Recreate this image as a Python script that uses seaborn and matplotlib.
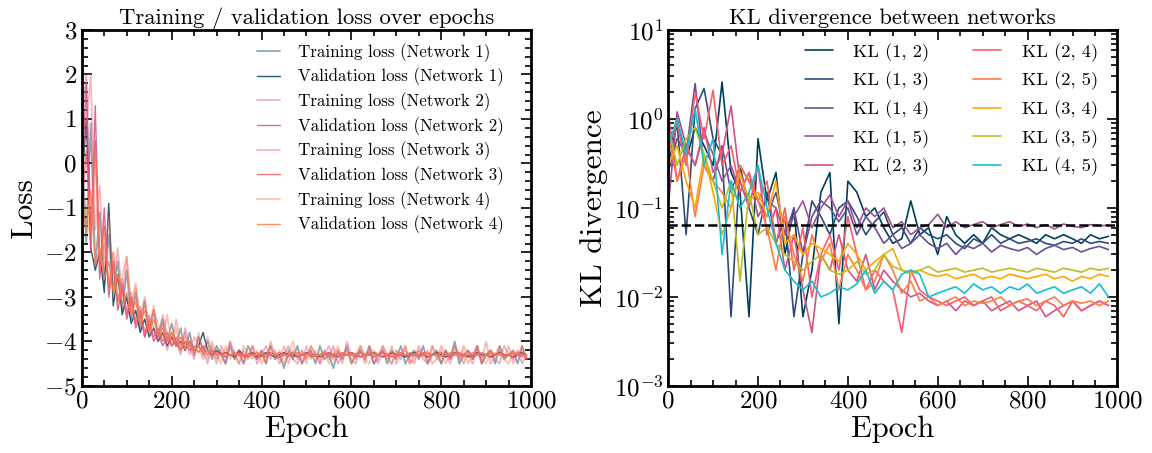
import numpy as np
import pandas as pd
import matplotlib
matplotlib.use("Agg")
import matplotlib.pyplot as plt
from matplotlib.ticker import MultipleLocator
import seaborn as sns

# ---- loss curves, one value every 10 epochs ----
train_1 = [0.4, -1.8, 0.9, -2.3, -1.1, -2.7, -1.6, -2.9, -2.2, -3.3,
           -2.4, -3.5, -2.9, -3.7, -3.1, -3.8, -3.3, -3.9, -3.5, -4.0,
           -3.6, -4.1, -3.7, -4.2, -3.8, -4.3, -3.9, -4.2, -4.0, -4.4,
           -4.1, -4.3, -4.5, -4.1, -4.4, -4.2, -4.5, -4.1, -4.3, -4.4,
           -4.2, -4.5, -4.1, -4.4, -4.3, -4.6, -4.2, -4.4, -4.1, -4.5,
           -4.3, -4.2, -4.5, -4.1, -4.4, -4.3, -4.6, -4.2, -4.4, -4.1,
           -4.5, -4.3, -4.2, -4.4, -4.1, -4.5, -4.3, -4.2, -4.5, -4.2,
           -4.4, -4.1, -4.5, -4.3, -4.2, -4.4, -4.1, -4.5, -4.3, -4.2,
           -4.5, -4.2, -4.4, -4.0, -4.5, -4.3, -4.2, -4.4, -4.1, -4.5,
           -4.3, -4.2, -4.5, -4.1, -4.4, -4.3, -4.2, -4.5, -4.1, -4.4]
val_1 = [-0.5, 1.0, -1.9, -2.4, -2.0, -2.9, -0.9, -3.2, -2.5, -3.4,
         -3.0, -3.6, -3.3, -3.8, -3.5, -3.9, -3.7, -4.0, -3.8, -4.1,
         -3.9, -4.1, -4.0, -4.2, -4.0, -4.2, -4.1, -3.8, -4.2, -4.3,
         -4.2, -4.3, -4.25, -4.3, -4.35, -4.2, -4.3, -4.3, -4.25, -4.35,
         -4.3, -4.25, -4.3, -4.35, -4.3, -4.25, -4.3, -4.3, -4.35, -4.3,
         -4.25, -4.3, -4.3, -4.35, -4.3, -4.25, -4.3, -4.35, -4.3, -4.3,
         -4.25, -4.3, -4.35, -4.3, -4.3, -4.25, -4.3, -4.35, -4.3, -4.25,
         -4.3, -4.3, -4.35, -4.3, -4.25, -4.3, -4.3, -4.35, -4.3, -4.25,
         -4.3, -4.35, -4.3, -4.25, -4.3, -4.3, -4.35, -4.3, -4.25, -4.3,
         -4.3, -4.35, -4.3, -4.25, -4.3, -4.3, -4.35, -4.3, -4.25, -4.3]
train_2 = [1.0, 2.0, -1.5, 0.5, -2.5, -1.8, -2.8, -2.0, -3.1, -2.6,
           -3.4, -2.9, -3.6, -3.2, -3.9, -3.4, -3.7, -4.0, -3.6, -4.2,
           -3.8, -4.0, -4.3, -3.7, -4.1, -4.4, -3.9, -4.2, -4.5, -4.1,
           -4.4, -4.2, -4.5, -4.0, -4.3, -4.5, -4.2, -4.4, -4.1, -4.5,
           -4.3, -4.1, -4.4, -4.2, -4.5, -4.3, -4.1, -4.4, -4.5, -4.2,
           -4.4, -4.1, -4.3, -4.5, -4.2, -4.4, -4.1, -4.5, -4.3, -4.2,
           -4.4, -4.5, -4.1, -4.3, -4.2, -4.5, -4.4, -4.1, -4.3, -4.5,
           -4.2, -4.4, -4.1, -4.5, -4.3, -4.2, -4.4, -4.5, -4.1, -4.3,
           -4.5, -4.2, -4.4, -4.1, -4.3, -4.5, -4.2, -4.4, -4.1, -4.5,
           -4.3, -4.2, -4.4, -4.5, -4.1, -4.3, -4.4, -4.2, -4.5, -4.3]
val_2 = [-0.3, 1.8, -2.0, 1.3, -2.6, -1.0, -3.0, -2.2, -3.3, -2.8,
         -3.5, -3.1, -3.7, -3.4, -3.9, -3.6, -4.0, -3.8, -4.1, -3.9,
         -4.1, -4.0, -4.2, -4.0, -4.2, -4.1, -4.25, -4.1, -4.3, -4.2,
         -4.3, -4.25, -4.35, -4.3, -4.3, -4.25, -4.35, -4.3, -4.25, -4.3,
         -4.35, -4.3, -4.25, -4.3, -4.35, -4.3, -4.3, -4.25, -4.35, -4.3,
         -4.25, -4.35, -4.3, -4.3, -4.25, -4.3, -4.35, -4.3, -4.25, -4.3,
         -4.3, -4.35, -4.25, -4.3, -4.3, -4.35, -4.3, -4.25, -4.3, -4.35,
         -4.3, -4.25, -4.3, -4.35, -4.3, -4.3, -4.25, -4.35, -4.3, -4.3,
         -4.25, -4.3, -4.35, -4.3, -4.25, -4.3, -4.3, -4.35, -4.3, -4.25,
         -4.3, -4.35, -4.3, -4.25, -4.3, -4.3, -4.35, -4.25, -4.3, -4.3]
train_3 = [0.0, 0.8, 2.0, -1.5, -0.5, -2.4, -1.2, -2.7, -1.9, -3.0,
           -2.1, -3.2, -2.7, -3.5, -3.0, -3.7, -3.2, -3.9, -3.4, -3.8,
           -4.0, -3.5, -4.1, -3.8, -4.3, -3.9, -4.1, -4.4, -3.9, -4.2,
           -4.5, -4.1, -4.3, -4.0, -4.4, -4.2, -4.5, -4.3, -4.1, -4.4,
           -4.2, -4.5, -4.0, -4.3, -4.4, -4.1, -4.5, -4.2, -4.3, -4.5,
           -4.1, -4.4, -4.2, -4.5, -4.3, -4.1, -4.4, -4.2, -4.5, -4.0,
           -4.3, -4.4, -4.2, -4.5, -4.1, -4.3, -4.5, -4.2, -4.4, -4.1,
           -4.5, -4.3, -4.2, -4.4, -4.5, -4.1, -4.3, -4.2, -4.5, -4.4,
           -4.1, -4.3, -4.5, -4.2, -4.4, -4.1, -4.3, -4.5, -4.2, -4.4,
           -4.0, -4.5, -4.3, -4.2, -4.4, -4.1, -4.5, -4.3, -4.2, -4.4]
val_3 = [-1.0, 0.3, -1.6, 0.5, -2.2, -1.4, -2.8, -2.3, -3.1, -2.7,
         -3.4, -3.0, -3.6, -3.3, -3.8, -3.5, -3.9, -3.7, -4.0, -3.8,
         -4.1, -3.9, -4.2, -4.0, -4.1, -4.2, -4.1, -4.25, -4.2, -4.3,
         -4.25, -4.3, -4.35, -4.3, -4.25, -4.3, -4.3, -4.35, -4.3, -4.25,
         -4.3, -4.35, -4.3, -4.3, -4.25, -4.3, -4.35, -4.3, -4.25, -4.3,
         -4.3, -4.25, -4.35, -4.3, -4.3, -4.25, -4.3, -4.35, -4.3, -4.3,
         -4.25, -4.3, -4.35, -4.3, -4.25, -4.3, -4.3, -4.35, -4.3, -4.25,
         -4.35, -4.3, -4.3, -4.25, -4.3, -4.35, -4.3, -4.25, -4.3, -4.3,
         -4.35, -4.3, -4.25, -4.3, -4.3, -4.35, -4.3, -4.25, -4.3, -4.35,
         -4.3, -4.25, -4.3, -4.3, -4.35, -4.3, -4.25, -4.3, -4.35, -4.3]
train_4 = [-0.5, -1.0, -1.8, 0.3, -2.4, -1.5, -2.9, -2.0, -3.2, -2.5,
           -2.1, -3.4, -2.8, -3.6, -3.1, -3.8, -3.3, -3.6, -3.9, -3.4,
           -4.1, -3.7, -4.2, -3.9, -4.0, -4.3, -3.8, -4.2, -4.4, -4.0,
           -4.3, -4.5, -4.1, -4.4, -4.2, -4.5, -4.1, -4.3, -4.4, -4.2,
           -4.5, -4.3, -4.1, -4.4, -4.2, -4.5, -4.3, -4.0, -4.4, -4.2,
           -4.5, -4.1, -4.3, -4.4, -4.2, -4.5, -4.3, -4.1, -4.4, -4.2,
           -4.5, -4.3, -4.1, -4.4, -4.5, -4.2, -4.3, -4.1, -4.4, -4.5,
           -4.2, -4.3, -4.1, -4.5, -4.4, -4.2, -4.3, -4.5, -4.1, -4.4,
           -4.2, -4.5, -4.3, -4.1, -4.4, -4.2, -4.5, -4.3, -4.1, -4.4,
           -4.5, -4.2, -4.3, -4.1, -4.4, -4.5, -4.2, -4.3, -4.1, -4.4]
val_4 = [-0.8, -1.5, -0.6, -2.3, -1.9, -2.6, -2.2, -2.9, -2.5, -3.2,
         -2.9, -3.4, -3.1, -3.6, -3.3, -3.8, -3.5, -3.9, -3.7, -4.0,
         -3.8, -4.1, -3.9, -4.2, -4.0, -4.2, -4.1, -4.3, -4.2, -4.25,
         -4.3, -4.28, -4.32, -4.3, -4.27, -4.33, -4.3, -4.29, -4.31, -4.3,
         -4.27, -4.32, -4.3, -4.28, -4.33, -4.3, -4.31, -4.27, -4.3, -4.32,
         -4.29, -4.3, -4.33, -4.28, -4.3, -4.31, -4.27, -4.3, -4.32, -4.29,
         -4.3, -4.28, -4.33, -4.3, -4.31, -4.27, -4.3, -4.32, -4.29, -4.3,
         -4.33, -4.28, -4.3, -4.31, -4.27, -4.3, -4.32, -4.29, -4.3, -4.28,
         -4.33, -4.3, -4.31, -4.27, -4.3, -4.32, -4.29, -4.3, -4.28, -4.33,
         -4.3, -4.31, -4.27, -4.3, -4.32, -4.29, -4.3, -4.28, -4.33, -4.3]

loss_labels = ["Training loss (Network 1)", "Validation loss (Network 1)",
               "Training loss (Network 2)", "Validation loss (Network 2)",
               "Training loss (Network 3)", "Validation loss (Network 3)",
               "Training loss (Network 4)", "Validation loss (Network 4)"]
loss_series = [train_1, val_1, train_2, val_2, train_3, val_3, train_4, val_4]
net_colors = ["#003f5c", "#d45087", "#f95d6a", "#ff7c43"]

# ---- KL divergence, one value every 20 epochs ----
kl_12 = [0.45, 1.0, 0.35, 0.8, 0.5, 0.3, 2.6, 0.25, 0.15, 0.006,
         0.6, 0.12, 0.25, 0.03, 0.1, 0.006, 0.02, 0.15, 0.25, 0.005,
         0.2, 0.15, 0.08, 0.1, 0.06, 0.04, 0.045, 0.12, 0.05, 0.06,
         0.03, 0.08, 0.05, 0.04, 0.05, 0.04, 0.06, 0.05, 0.045, 0.05,
         0.045, 0.04, 0.05, 0.045, 0.05, 0.045, 0.04, 0.05, 0.045, 0.048]
kl_13 = [0.3, 0.9, 0.05, 1.3, 2.2, 0.6, 0.4, 0.006, 0.3, 0.1,
         0.05, 0.15, 0.04, 0.08, 0.006, 0.03, 0.12, 0.08, 0.05, 0.1,
         0.12, 0.08, 0.05, 0.07, 0.09, 0.05, 0.06, 0.04, 0.06, 0.05,
         0.045, 0.05, 0.04, 0.035, 0.045, 0.04, 0.05, 0.04, 0.045, 0.04,
         0.042, 0.045, 0.04, 0.038, 0.042, 0.04, 0.045, 0.04, 0.042, 0.04]
kl_14 = [0.25, 0.6, 0.4, 2.5, 0.3, 0.2, 0.5, 0.15, 0.3, 0.2,
         0.12, 0.08, 0.15, 0.05, 0.1, 0.03, 0.08, 0.12, 0.1, 0.07,
         0.1, 0.05, 0.08, 0.06, 0.04, 0.05, 0.035, 0.04, 0.05, 0.04,
         0.035, 0.04, 0.03, 0.038, 0.035, 0.04, 0.032, 0.038, 0.035, 0.033,
         0.036, 0.03, 0.035, 0.038, 0.034, 0.036, 0.032, 0.035, 0.037, 0.034]
kl_15 = [0.1, 1.2, 0.5, 0.3, 0.7, 0.4, 0.2, 0.3, 0.15, 0.25,
         0.08, 0.12, 0.1, 0.05, 0.08, 0.12, 0.06, 0.1, 0.14, 0.08,
         0.12, 0.06, 0.1, 0.08, 0.1, 0.06, 0.07, 0.05, 0.06, 0.065,
         0.085, 0.06, 0.07, 0.06, 0.065, 0.07, 0.06, 0.065, 0.07, 0.062,
         0.066, 0.06, 0.065, 0.058, 0.066, 0.062, 0.06, 0.065, 0.063, 0.064]
kl_23 = [1.2, 0.2, 0.5, 0.3, 0.8, 0.25, 0.4, 1.4, 0.2, 0.1,
         0.3, 0.05, 0.1, 0.02, 0.05, 0.012, 0.004, 0.03, 0.02, 0.05,
         0.02, 0.015, 0.03, 0.012, 0.02, 0.015, 0.012, 0.01, 0.011, 0.009,
         0.008, 0.009, 0.007, 0.009, 0.008, 0.009, 0.007, 0.008, 0.009, 0.007,
         0.008, 0.009, 0.006, 0.007, 0.008, 0.009, 0.007, 0.008, 0.009, 0.008]
kl_24 = [0.5, 0.9, 0.3, 2.0, 0.6, 2.1, 0.3, 0.5, 0.15, 0.25,
         0.12, 0.2, 0.04, 0.1, 0.02, 0.06, 0.01, 0.03, 0.05, 0.02,
         0.08, 0.03, 0.012, 0.02, 0.015, 0.012, 0.004, 0.02, 0.012, 0.01,
         0.009, 0.008, 0.009, 0.01, 0.008, 0.009, 0.01, 0.007, 0.008, 0.009,
         0.008, 0.007, 0.009, 0.008, 0.006, 0.009, 0.007, 0.008, 0.009, 0.008]
kl_25 = [0.7, 0.2, 0.4, 0.08, 0.3, 0.2, 0.15, 0.1, 0.3, 0.2,
         0.12, 0.06, 0.02, 0.08, 0.03, 0.015, 0.05, 0.025, 0.04, 0.012,
         0.03, 0.02, 0.012, 0.015, 0.03, 0.02, 0.011, 0.015, 0.009, 0.01,
         0.008, 0.009, 0.01, 0.008, 0.009, 0.0085, 0.009, 0.01, 0.008, 0.009,
         0.0095, 0.008, 0.009, 0.01, 0.008, 0.009, 0.0085, 0.009, 0.008, 0.009]
kl_34 = [0.3, 0.5, 0.2, 0.1, 0.4, 0.15, 0.05, 0.1, 0.25, 0.12,
         0.15, 0.08, 0.2, 0.04, 0.05, 0.03, 0.04, 0.035, 0.03, 0.025,
         0.04, 0.03, 0.02, 0.025, 0.03, 0.035, 0.02, 0.018, 0.02, 0.018,
         0.017, 0.018, 0.016, 0.017, 0.018, 0.016, 0.017, 0.016, 0.018, 0.017,
         0.016, 0.017, 0.018, 0.016, 0.017, 0.015, 0.017, 0.016, 0.018, 0.017]
kl_35 = [0.8, 0.3, 0.6, 0.8, 0.4, 0.2, 0.1, 0.2, 0.015, 0.15,
         0.05, 0.06, 0.04, 0.03, 0.025, 0.02, 0.025, 0.03, 0.02, 0.018,
         0.02, 0.025, 0.018, 0.02, 0.03, 0.022, 0.02, 0.019, 0.02, 0.022,
         0.019, 0.02, 0.021, 0.019, 0.02, 0.021, 0.019, 0.02, 0.021, 0.02,
         0.019, 0.021, 0.02, 0.019, 0.021, 0.02, 0.019, 0.021, 0.02, 0.021]
kl_45 = [0.5, 1.0, 0.4, 1.3, 0.3, 0.6, 0.03, 0.2, 0.1, 0.15,
         0.3, 0.1, 0.04, 0.02, 0.015, 0.012, 0.015, 0.01, 0.011, 0.013,
         0.012, 0.014, 0.02, 0.011, 0.015, 0.012, 0.018, 0.02, 0.018, 0.01,
         0.011, 0.012, 0.013, 0.011, 0.014, 0.012, 0.013, 0.011, 0.013, 0.012,
         0.014, 0.011, 0.012, 0.013, 0.011, 0.012, 0.013, 0.011, 0.014, 0.01]

kl_labels = ["KL (1, 2)", "KL (1, 3)", "KL (1, 4)", "KL (1, 5)", "KL (2, 3)",
             "KL (2, 4)", "KL (2, 5)", "KL (3, 4)", "KL (3, 5)", "KL (4, 5)"]
kl_series = [kl_12, kl_13, kl_14, kl_15, kl_23, kl_24, kl_25, kl_34, kl_35, kl_45]
kl_colors = ["#003f5c", "#2f4b7c", "#665191", "#a05195", "#d45087",
             "#f95d6a", "#ff7c43", "#ffa600", "#bcbd22", "#17becf"]
kl_threshold = 0.064

sns.set_style("white")
plt.rcParams.update({
    "font.family": "serif",
    "font.serif": ["cmr10"],
    "mathtext.fontset": "cm",
    "axes.formatter.use_mathtext": True,
    "axes.unicode_minus": True,
    "axes.linewidth": 2.0,
    "axes.edgecolor": "black",
    "text.color": "black",
    "axes.labelcolor": "black",
    "xtick.color": "black",
    "ytick.color": "black",
})

fig, (ax1, ax2) = plt.subplots(1, 2, figsize=(11.52, 4.53), dpi=100)
fig.subplots_adjust(left=0.071, right=0.97, bottom=0.148, top=0.934, wspace=0.305)

# left panel: losses
for i, (lab, vals) in enumerate(zip(loss_labels, loss_series)):
    col = net_colors[i // 2]
    is_train = i % 2 == 0
    df = pd.DataFrame({"epoch": np.arange(len(vals)) * 10, "loss": vals})
    sns.lineplot(data=df, x="epoch", y="loss", ax=ax1, color=col, label=lab,
                 lw=1.3 if is_train else 1.0, alpha=0.45 if is_train else 0.85)
ax1.set_xlim(0, 1000)
ax1.set_ylim(-5, 3)
ax1.yaxis.set_major_locator(MultipleLocator(1))
ax1.yaxis.set_minor_locator(MultipleLocator(0.2))
ax1.set_title("Training / validation loss over epochs", fontsize=16.3, pad=4)
ax1.set_xlabel("Epoch", fontsize=22, labelpad=2)
ax1.set_ylabel("Loss", fontsize=22.5, labelpad=4)
ax1.legend(loc="upper right", bbox_to_anchor=(0.94, 0.963), frameon=False,
           fontsize=12.2, handlelength=1.4, handletextpad=1.07,
           labelspacing=0.35, borderaxespad=0, borderpad=0)

# right panel: KL divergences
for lab, vals, col in zip(kl_labels, kl_series, kl_colors):
    df = pd.DataFrame({"epoch": np.arange(len(vals)) * 20, "kl": vals})
    sns.lineplot(data=df, x="epoch", y="kl", ax=ax2, color=col, label=lab, lw=1.2)
ax2.axhline(kl_threshold, color="black", ls="--", lw=1.8)
ax2.set_yscale("log")
ax2.set_xlim(0, 1000)
ax2.set_ylim(1e-3, 10)
ax2.set_title("KL divergence between networks", fontsize=16.3, pad=4)
ax2.set_xlabel("Epoch", fontsize=22, labelpad=2)
ax2.set_ylabel("KL divergence", fontsize=22.5, labelpad=4)
ax2.legend(loc="upper right", bbox_to_anchor=(0.956, 0.963), ncol=2,
           frameon=False, fontsize=13.3, handlelength=1.52, handletextpad=1.09,
           labelspacing=0.54, columnspacing=2.4, borderaxespad=0, borderpad=0)

for ax in (ax1, ax2):
    ax.xaxis.set_major_locator(MultipleLocator(200))
    ax.xaxis.set_minor_locator(MultipleLocator(50))
    ax.tick_params(which="both", direction="in", top=True, right=True,
                   bottom=True, left=True, labelsize=18, width=1.2)
    ax.tick_params(which="major", length=7)
    ax.tick_params(which="minor", length=4)

plt.savefig("out.png", dpi=100)
